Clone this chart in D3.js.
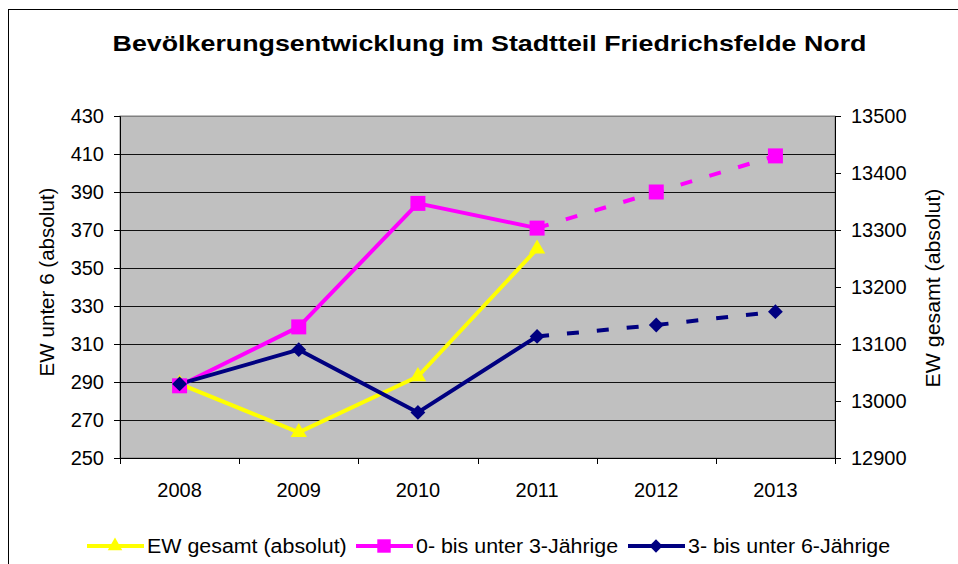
<!DOCTYPE html>
<html lang="de">
<head>
    <meta charset="UTF-8">
    <title>Bevölkerungsentwicklung Friedrichsfelde Nord</title>
    <script src="https://d3js.org/d3.v7.min.js"></script>
    <style>
        body {
            margin: 0;
            padding: 0;
            background: #ffffff;
            font-family: Arial, "Liberation Sans", sans-serif;
        }
        svg text {
            fill: #000;
        }
    </style>
</head>
<body>
    <div id="chart"></div>

    <script>
        // data
        const years = ["2008", "2009", "2010", "2011", "2012", "2013"];
        const ewGesamt = [13030, 12945, 13043, 13267];          // right axis, 2008-2011 only
        const unter3 = [288, 319, 384, 371, 390, 409];          // left axis
        const unter6 = [289, 307, 274, 314, 320, 327];          // left axis
        const leftTicks = [250, 270, 290, 310, 330, 350, 370, 390, 410, 430];
        const rightTicks = [12900, 13000, 13100, 13200, 13300, 13400, 13500];
        const lastActual = 3; // index of 2011, after that the values are a forecast (dashed)

        const width = 958, height = 564;
        const plot = { left: 120, right: 835, top: 116, bottom: 458 };

        const svg = d3.select("#chart")
            .append("svg")
            .attr("width", width)
            .attr("height", height);

        // the source text is a bit wider than the font, so stretch it horizontally
        function stretchedText(parent, x, y, sx, rotate, anchor) {
            return parent.append("text")
                .attr("transform", `translate(${x},${y}) rotate(${rotate}) scale(${sx},1)`)
                .attr("text-anchor", anchor);
        }

        // outer chart frame (runs off the right and bottom of the picture)
        svg.append("rect")
            .attr("x", 8.5).attr("y", 9.5)
            .attr("width", 1000).attr("height", 600)
            .attr("fill", "none")
            .attr("stroke", "#000");

        const x = d3.scaleBand()
            .domain(years)
            .range([plot.left, plot.right]);

        const yLeft = d3.scaleLinear()
            .domain([250, 430])
            .range([plot.bottom, plot.top]);

        const yRight = d3.scaleLinear()
            .domain([12900, 13500])
            .range([plot.bottom, plot.top]);

        // plot background
        svg.append("rect")
            .attr("x", plot.left).attr("y", plot.top)
            .attr("width", plot.right - plot.left)
            .attr("height", plot.bottom - plot.top)
            .attr("fill", "#c0c0c0")
            .attr("stroke", "#808080");

        // gridlines
        svg.append("g")
            .selectAll("line")
            .data(leftTicks.slice(1))
            .enter().append("line")
            .attr("x1", plot.left).attr("x2", plot.right)
            .attr("y1", d => Math.round(yLeft(d)) + 0.5)
            .attr("y2", d => Math.round(yLeft(d)) + 0.5)
            .attr("stroke", d => d === 430 ? "#808080" : "#111")
            .attr("stroke-width", 1);

        // axes
        const axisFont = g => g.selectAll("text")
            .attr("font-family", "Arial, 'Liberation Sans', sans-serif")
            .attr("font-size", "20px")
            .attr("fill", "#000");

        svg.append("g")
            .attr("transform", `translate(${plot.left},0)`)
            .call(d3.axisLeft(yLeft).tickValues(leftTicks).tickSize(6).tickPadding(10))
            .call(axisFont)
            .call(g => g.select(".domain").attr("stroke", "#000"));

        svg.append("g")
            .attr("transform", `translate(${plot.right},0)`)
            .call(d3.axisRight(yRight).tickValues(rightTicks).tickSize(6).tickPadding(10).tickFormat(d3.format("d")))
            .call(axisFont)
            .call(g => g.select(".domain").attr("stroke", "#000"));

        // x axis: ticks sit between the categories
        const xAxis = svg.append("g")
            .attr("transform", `translate(0,${plot.bottom})`);
        xAxis.append("line")
            .attr("x1", plot.left).attr("x2", plot.right)
            .attr("y1", 0.5).attr("y2", 0.5)
            .attr("stroke", "#000");
        xAxis.selectAll("line.tick")
            .data(years.concat(["end"]))
            .enter().append("line")
            .attr("class", "tick")
            .attr("x1", (d, i) => Math.round(plot.left + i * x.bandwidth()) + 0.5)
            .attr("x2", (d, i) => Math.round(plot.left + i * x.bandwidth()) + 0.5)
            .attr("y1", 0).attr("y2", 6)
            .attr("stroke", "#000");
        xAxis.selectAll("text")
            .data(years)
            .enter().append("text")
            .attr("x", d => x(d) + x.bandwidth() / 2)
            .attr("y", 39)
            .attr("text-anchor", "middle")
            .attr("font-size", "20px")
            .text(d => d);

        // axis titles
        stretchedText(svg, 54, 282, 1.03, -90, "middle")
            .attr("font-size", "20px")
            .text("EW unter 6 (absolut)");

        stretchedText(svg, 940, 288, 1.065, -90, "middle")
            .attr("font-size", "20px")
            .text("EW gesamt (absolut)");

        // title
        stretchedText(svg, 489.5, 51, 1.22, 0, "middle")
            .attr("font-size", "22px")
            .attr("font-weight", "bold")
            .text("Bevölkerungsentwicklung im Stadtteil Friedrichsfelde Nord");

        // series
        const cx = i => x(years[i]) + x.bandwidth() / 2;
        const series = [
            { name: "EW gesamt (absolut)", values: ewGesamt, y: yRight, color: "#ffff00", symbol: d3.symbolTriangle, size: 115, rot: 0 },
            { name: "0- bis unter 3-Jährige", values: unter3, y: yLeft, color: "#ff00ff", symbol: d3.symbolSquare, size: 225, rot: 0 },
            { name: "3- bis unter 6-Jährige", values: unter6, y: yLeft, color: "#000080", symbol: d3.symbolSquare, size: 110, rot: 45 }
        ];

        const line = s => d3.line()
            .x(d => cx(d.i))
            .y(d => s.y(d.v));

        series.forEach(s => {
            const pts = s.values.map((v, i) => ({ v, i }));
            const solid = pts.filter(p => p.i <= lastActual);
            const dashed = pts.filter(p => p.i >= lastActual);

            svg.append("path")
                .datum(solid)
                .attr("d", line(s))
                .attr("fill", "none")
                .attr("stroke", s.color)
                .attr("stroke-width", 4)
                .attr("stroke-linejoin", "round");

            if (dashed.length > 1) {
                svg.append("path")
                    .datum(dashed)
                    .attr("d", line(s))
                    .attr("fill", "none")
                    .attr("stroke", s.color)
                    .attr("stroke-width", 4)
                    .attr("stroke-dasharray", "12,18");
            }
        });

        // markers drawn last so they sit on top of all lines
        series.forEach(s => {
            svg.append("g")
                .selectAll("path")
                .data(s.values.map((v, i) => ({ v, i })))
                .enter().append("path")
                .attr("d", d3.symbol().type(s.symbol).size(s.size))
                .attr("transform", d => `translate(${cx(d.i)},${s.y(d.v)}) rotate(${s.rot})`)
                .attr("fill", s.color);
        });

        // legend
        const legendX = [87, 356, 628];
        const legend = svg.append("g");
        series.forEach((s, k) => {
            const g = legend.append("g").attr("transform", `translate(${legendX[k]},546)`);
            g.append("line")
                .attr("x1", 0).attr("x2", 57)
                .attr("stroke", s.color)
                .attr("stroke-width", 4);
            g.append("path")
                .attr("d", d3.symbol().type(s.symbol).size(s.size * 0.8))
                .attr("transform", `translate(28,0) rotate(${s.rot})`)
                .attr("fill", s.color);
            stretchedText(g, 60, 7, 1.07, 0, "start")
                .attr("font-size", "20px")
                .text(s.name);
        });
    </script>
</body>
</html>
